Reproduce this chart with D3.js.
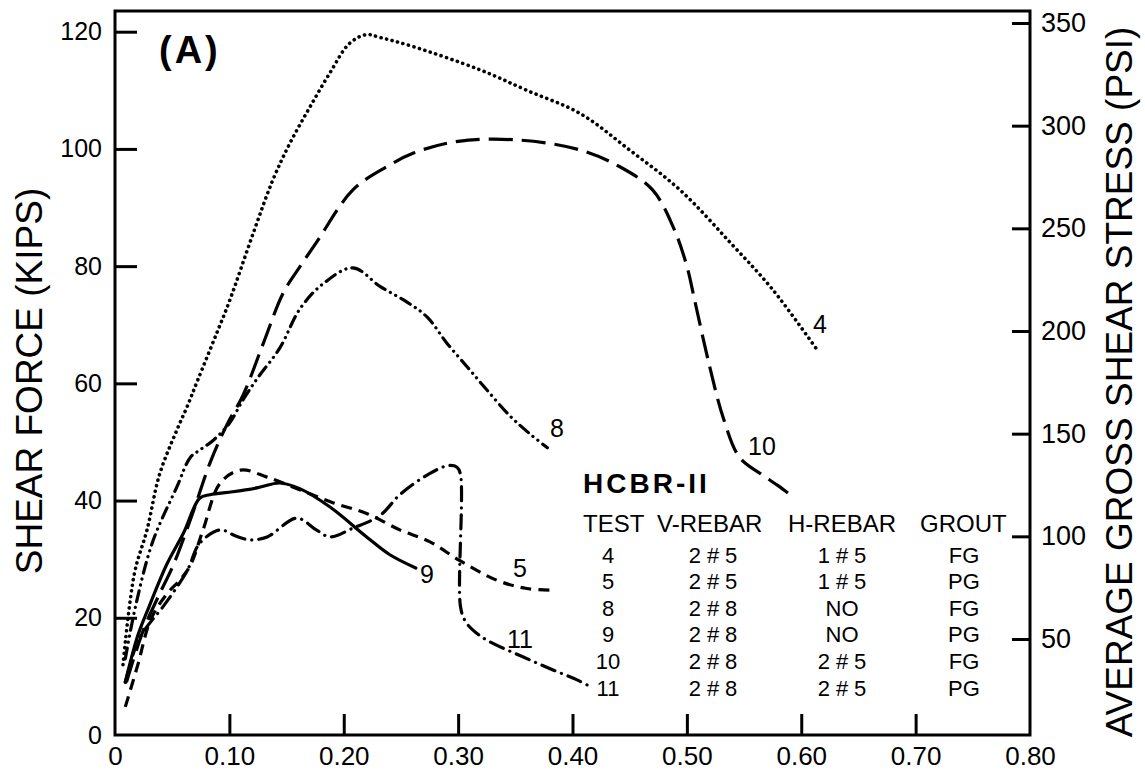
<!DOCTYPE html>
<html>
<head>
<meta charset="utf-8">
<script src="https://cdn.jsdelivr.net/npm/d3@7"></script>
<style>
  html, body { margin: 0; padding: 0; background: #fff; }
  svg { display: block; }
  text { font-family: "Liberation Sans", Arial, sans-serif; fill: #000; }
</style>
</head>
<body>
<svg id="chart" width="1145" height="770"></svg>
<script>
// ---------- data ----------
const xTicks = [0, 0.10, 0.20, 0.30, 0.40, 0.50, 0.60, 0.70, 0.80];
const yTicks = [0, 20, 40, 60, 80, 100, 120];
const psiTicks = [50, 100, 150, 200, 250, 300, 350];

const test4X  = [0.007,0.017,0.028,0.039,0.054,0.063,0.072,0.089,0.10,0.121,0.138,0.153,0.170,0.188,0.205,0.22,0.232,0.26,0.319,0.36,0.407,0.45,0.494,0.538,0.575,0.615];
const test4Y  = [12,27.6,35,44.5,52,56,60.4,68.6,74,85.7,94.7,101,107,113,118,119.5,119,117.5,113.5,110,106,99.8,93,84,76,65.4];

const test10X = [0.01,0.025,0.04,0.051,0.068,0.083,0.098,0.112,0.13,0.147,0.162,0.176,0.208,0.238,0.261,0.3,0.354,0.407,0.441,0.47,0.488,0.5,0.507,0.52,0.532,0.546,0.565,0.58,0.593];
const test10Y = [9,18,24.5,29,37.9,46.4,53,58,67,75.4,80,84,93,97,99.3,101.3,101.5,99.8,97,93,86.7,80,74,62.8,54,47.4,44.5,42.5,40.6];

const test8X  = [0.009,0.018,0.033,0.054,0.066,0.074,0.086,0.1,0.112,0.125,0.144,0.162,0.182,0.208,0.232,0.255,0.273,0.29,0.308,0.325,0.345,0.362,0.378];
const test8Y  = [13,22,33,42.3,47.4,48.6,50.3,53.2,57.2,61,66,72.8,77,79.7,76.5,73.9,71.3,66.9,62.8,58.9,54.5,51.5,49];

const test9X  = [0.009,0.02,0.03,0.045,0.06,0.074,0.083,0.103,0.125,0.144,0.162,0.188,0.22,0.24,0.263];
const test9Y  = [9,17,22,29,34.5,40.4,41,41.5,42.2,43,42,38.9,33.8,30.8,28.5];

const test5X  = [0.009,0.02,0.031,0.045,0.057,0.066,0.077,0.092,0.11,0.133,0.162,0.191,0.22,0.249,0.275,0.302,0.334,0.36,0.386];
const test5Y  = [4.8,12,19.6,24,26.5,29,35,43,45.2,44,41.8,39.6,37.8,35,33,29.7,26.4,25,24.7];

const test11X = [0.009,0.02,0.03,0.042,0.063,0.074,0.092,0.105,0.118,0.133,0.159,0.176,0.188,0.208,0.232,0.249,0.275,0.292,0.299,0.302,0.302,0.306,0.313,0.325,0.357,0.383,0.404,0.418];
const test11Y = [9,16,19,21.9,28,32.7,35,34,33.3,33.8,37,35,33.8,35.3,37.5,41,44.6,46,45.7,44.5,22,19.5,17.9,16.2,13.3,11.1,9.4,8];

const legendTests = ["4", "5", "8", "9", "10", "11"];
const legendVRebar = ["2#5", "2#5", "2#8", "2#8", "2#8", "2#8"];
const legendHRebar = ["1#5", "1#5", "NO", "NO", "2#5", "2#5"];
const legendGrout = ["FG", "PG", "FG", "PG", "FG", "PG"];
const legendHeader = ["TEST", "V-REBAR", "H-REBAR", "GROUT"];

// ---------- scales ----------
const svg = d3.select("#chart");
const x = d3.scaleLinear().domain([0, 0.8]).range([115, 1030]);
const y = d3.scaleLinear().domain([0, 120]).range([735, 31.7]);
const yR = d3.scaleLinear().domain([50, 350]).range([639, 23]);

// ---------- frame ----------
svg.append("rect")
  .attr("x", x(0)).attr("y", 11)
  .attr("width", x(0.8) - x(0)).attr("height", y(0) - 11)
  .attr("fill", "none").attr("stroke", "#000").attr("stroke-width", 3);

function styleAxis(g, size) {
  g.select(".domain").remove();
  g.selectAll(".tick line").attr("stroke", "#000").attr("stroke-width", 3);
  g.selectAll(".tick text").style("font-size", size + "px").attr("fill", "#000")
    .style("font-family", "'Liberation Sans', Arial, sans-serif");
}

// left axis
svg.append("g").attr("transform", `translate(${x(0)},0)`)
  .call(d3.axisLeft(y).tickValues(yTicks).tickSize(-22).tickPadding(13).tickFormat(d3.format("d")))
  .call(g => styleAxis(g, 25))
  .call(g => g.selectAll(".tick").filter(d => d === 0).select("line").remove());

// bottom axis
svg.append("g").attr("transform", `translate(0,${y(0)})`)
  .call(d3.axisBottom(x).tickValues(xTicks).tickSize(-21).tickPadding(12)
    .tickFormat(d => d === 0 ? "0" : d3.format(".2f")(d)))
  .call(g => styleAxis(g, 26))
  .call(g => g.selectAll(".tick").filter(d => d === 0 || d === 0.8).select("line").remove());

// right axis
svg.append("g").attr("transform", `translate(${x(0.8)},0)`)
  .call(d3.axisRight(yR).tickValues(psiTicks).tickSize(-18).tickPadding(11).tickFormat(d3.format("d")))
  .call(g => styleAxis(g, 27));

// axis titles
svg.append("text")
  .attr("transform", "translate(42,381) rotate(-90)")
  .attr("text-anchor", "middle")
  .style("font-size", "37px")
  .text("SHEAR FORCE (KIPS)");

svg.append("text")
  .attr("transform", "translate(1132,382) rotate(-90)")
  .attr("text-anchor", "middle")
  .style("font-size", "37px")
  .text("AVERAGE GROSS SHEAR STRESS (PSI)");

svg.append("text")
  .attr("x", 159).attr("y", 63)
  .style("font-size", "38px").style("font-weight", "bold").style("letter-spacing", "3px")
  .text("(A)");

// ---------- curves ----------
const line = d3.line()
  .x(d => x(d[0])).y(d => y(d[1]))
  .curve(d3.curveCatmullRom.alpha(0.5));

const series = [
  { xs: test4X,  ys: test4Y,  dash: "0.1,5.6", width: 3.6, cap: "round" },
  { xs: test10X, ys: test10Y, dash: "24,9", width: 3.2, cap: "butt" },
  { xs: test8X,  ys: test8Y,  dash: "11,6,0.1,6,0.1,6", width: 3.2, cap: "round" },
  { xs: test9X,  ys: test9Y,  dash: null, width: 3.2, cap: "round" },
  { xs: test5X,  ys: test5Y,  dash: "11,7", width: 3.2, cap: "butt" },
  { xs: test11X, ys: test11Y, dash: "14,7,0.1,7", width: 3.2, cap: "round" }
];

series.forEach(s => {
  const pts = s.xs.map((v, i) => [v, s.ys[i]]);
  svg.append("path")
    .datum(pts)
    .attr("d", line)
    .attr("fill", "none")
    .attr("stroke", "#000")
    .attr("stroke-width", s.width)
    .attr("stroke-linecap", s.cap)
    .attr("stroke-linejoin", "round")
    .attr("stroke-dasharray", s.dash);
});

// curve labels
const curveLabels = [
  { t: "4", px: 820, py: 333 },
  { t: "8", px: 557, py: 437 },
  { t: "10", px: 762, py: 455 },
  { t: "9", px: 427, py: 583 },
  { t: "5", px: 520, py: 577 },
  { t: "11", px: 520, py: 648 }
];
svg.selectAll("text.clabel").data(curveLabels).enter().append("text")
  .attr("class", "clabel")
  .attr("x", d => d.px).attr("y", d => d.py)
  .attr("text-anchor", "middle")
  .style("font-size", "25px")
  .text(d => d.t);

// ---------- legend table ----------
svg.append("text")
  .attr("x", 583).attr("y", 493)
  .style("font-size", "28px").style("font-weight", "bold").style("letter-spacing", "3px")
  .text("HCBR-II");

const headerX = [583, 657, 788, 920];
legendHeader.forEach((h, i) => {
  svg.append("text")
    .attr("x", headerX[i]).attr("y", 532)
    .style("font-size", "24px")
    .text(h);
});

const rowY = [563, 589, 616, 642, 669, 696];
const colX = [608, 713, 842, 964];
const cols = [legendTests, legendVRebar, legendHRebar, legendGrout];
cols.forEach((col, ci) => {
  col.forEach((v, ri) => {
    const spaced = v.includes("#");
    svg.append("text")
      .attr("x", colX[ci] + (spaced ? 3 : 0)).attr("y", rowY[ri])
      .attr("text-anchor", "middle")
      .style("font-size", "22px")
      .style("letter-spacing", spaced ? "6px" : "0px")
      .text(v);
  });
});
</script>
</body>
</html>
